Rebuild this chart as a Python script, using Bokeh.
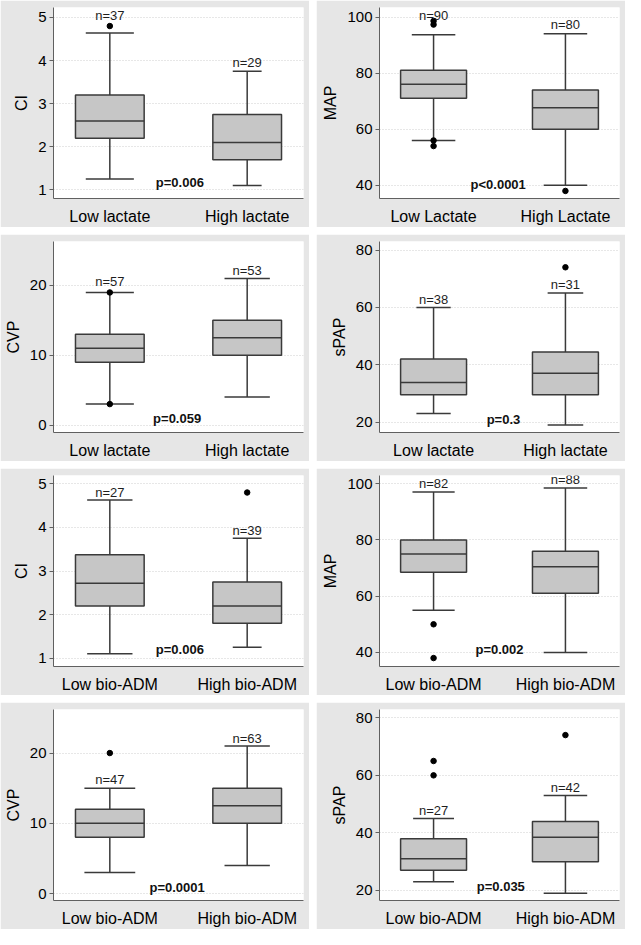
from bokeh.plotting import figure
from bokeh.layouts import gridplot
from bokeh.models import Range1d, FixedTicker
from bokeh.core.properties import value
from bokeh.embed import file_html
from bokeh.resources import INLINE

# ---------------- data ----------------
y_titles = ["CI", "MAP", "CVP", "sPAP", "CI", "MAP", "CVP", "sPAP"]
group_names = [
    ["Low lactate", "High lactate"],
    ["Low Lactate", "High Lactate"],
    ["Low lactate", "High lactate"],
    ["Low lactate", "High lactate"],
    ["Low bio-ADM", "High bio-ADM"],
    ["Low bio-ADM", "High bio-ADM"],
    ["Low bio-ADM", "High bio-ADM"],
    ["Low bio-ADM", "High bio-ADM"],
]
lower_whisker = [[1.25, 1.1], [56, 40], [3, 4], [23, 19], [1.1, 1.25], [55, 40], [3, 4], [23, 19]]
q1 = [[2.2, 1.7], [71, 60], [9, 10], [29.5, 29.5], [2.2, 1.8], [68.5, 61], [8, 10], [27, 30]]
median = [[2.6, 2.1], [76, 67.7], [11, 12.5], [33.8, 37], [2.72, 2.2], [75, 70.5], [10, 12.5], [31, 38.5]]
q3 = [[3.2, 2.75], [81, 74], [13, 15], [42, 44.4], [3.37, 2.75], [80, 76], [12, 15], [38, 44]]
upper_whisker = [[4.64, 3.75], [93.7, 94], [19, 21], [60, 65], [4.63, 3.75], [97, 98.5], [15, 21], [45, 53]]
outliers = [
    [[4.8], []],
    [[98.6, 97.3, 56, 54], [38]],
    [[19, 3], []],
    [[], [74]],
    [[], [4.8]],
    [[50, 38], []],
    [[20], []],
    [[65, 60], [74]],
]
n_counts = [[37, 29], [90, 80], [57, 53], [38, 31], [27, 39], [82, 88], [47, 63], [27, 42]]
n_label_y = [[5.05, 3.95], [100.6, 97.3], [20.6, 22.2], [62.9, 68.1],
             [4.80, 3.94], [99.9, 101.4], [16.3, 22.1], [47.7, 55.7]]
p_texts = ["p=0.006", "p<0.0001", "p=0.059", "p=0.3", "p=0.006", "p=0.002", "p=0.0001", "p=0.035"]
p_x = [1.51, 1.49, 1.49, 1.53, 1.51, 1.50, 1.49, 1.51]
p_y = [1.16, 40.4, 0.95, 20.9, 1.19, 41.2, 0.89, 21.3]
y_ticks = [[1, 2, 3, 4, 5], [40, 60, 80, 100], [0, 10, 20], [20, 40, 60, 80],
           [1, 2, 3, 4, 5], [40, 60, 80, 100], [0, 10, 20], [20, 40, 60, 80]]
y_limits = [(0.8, 5.23), (35.3, 103.4), (-1.07, 26.3), (16.35, 83.0),
            (0.81, 5.19), (35.0, 102.9), (-0.99, 26.2), (16.5, 82.9)]

# ---------------- style ----------------
FONT = "Liberation Sans"
W, H = 309, 227
cap_widths = [[0.35, 0.21], [0.33, 0.33], [0.35, 0.33], [0.26, 0.27],
              [0.33, 0.21], [0.32, 0.33], [0.37, 0.33], [0.31, 0.33]]
left_borders = [45, 63, 53, 53, 45, 63, 53, 53]
BOX_W = 0.5
BOX_FILL = "#c6c6c6"
LINE = "#3a3a3a"
LW = 1.5
AXIS = "#606060"
PANEL_BG = "#e6e6e6"

figs = []
for i in range(8):
    p = figure(width=W, height=H, output_backend="svg", toolbar_location=None,
               x_range=Range1d(0.59, 2.41), y_range=Range1d(*y_limits[i]),
               min_border_left=left_borders[i], min_border_right=6,
               min_border_top=7, min_border_bottom=27)
    p.background_fill_color = "white"
    p.border_fill_color = PANEL_BG
    p.outline_line_color = None

    xs = [1, 2]
    # whiskers
    p.segment(x0=xs, y0=q3[i], x1=xs, y1=upper_whisker[i], line_color=LINE, line_width=LW)
    p.segment(x0=xs, y0=q1[i], x1=xs, y1=lower_whisker[i], line_color=LINE, line_width=LW)
    # caps
    cx0 = [x - c / 2 for x, c in zip(xs, cap_widths[i])]
    cx1 = [x + c / 2 for x, c in zip(xs, cap_widths[i])]
    p.segment(x0=cx0, y0=upper_whisker[i], x1=cx1, y1=upper_whisker[i], line_color=LINE, line_width=LW)
    p.segment(x0=cx0, y0=lower_whisker[i], x1=cx1, y1=lower_whisker[i], line_color=LINE, line_width=LW)
    # boxes
    p.vbar(x=xs, width=BOX_W, bottom=q1[i], top=q3[i], fill_color=BOX_FILL,
           line_color=LINE, line_width=LW)
    # medians
    p.segment(x0=[x - BOX_W / 2 for x in xs], y0=median[i],
              x1=[x + BOX_W / 2 for x in xs], y1=median[i], line_color=LINE, line_width=LW)
    # outliers
    ox, oy = [], []
    for g in range(2):
        for v in outliers[i][g]:
            ox.append(xs[g])
            oy.append(v)
    if ox:
        p.scatter(x=ox, y=oy, size=5.5, marker="circle", fill_color="black", line_color="black")
    # n labels
    p.text(x=xs, y=n_label_y[i], text=[f"n={n}" for n in n_counts[i]],
           text_font=value(FONT), text_font_size="13px", text_color="#1e1e1e",
           text_align="center", text_baseline="middle")
    # p-value
    p.text(x=[p_x[i]], y=[p_y[i]], text=[p_texts[i]], text_font=value(FONT),
           text_font_size="13px", text_font_style="bold", text_color="#111111",
           text_align="center", text_baseline="middle")

    # axes
    p.xaxis.ticker = FixedTicker(ticks=xs)
    p.xaxis.major_label_overrides = {1: group_names[i][0], 2: group_names[i][1]}
    p.xaxis.major_label_text_font = FONT
    p.xaxis.major_label_text_font_size = "16px"
    p.xaxis.major_label_text_color = "black"
    p.xaxis.major_tick_line_color = None
    p.xaxis.minor_tick_line_color = None
    p.xaxis.major_label_standoff = 3
    p.xaxis.axis_line_color = AXIS

    p.yaxis.ticker = FixedTicker(ticks=y_ticks[i], minor_ticks=[])
    p.yaxis.axis_label = y_titles[i]
    p.yaxis.axis_label_text_font = FONT
    p.yaxis.axis_label_text_font_size = "16px"
    p.yaxis.axis_label_text_font_style = "normal"
    p.yaxis.axis_label_text_color = "black"
    p.yaxis.axis_label_standoff = 5
    p.yaxis.major_label_text_font = FONT
    p.yaxis.major_label_text_font_size = "15px"
    p.yaxis.major_label_text_color = "black"
    p.yaxis.major_label_standoff = 3
    p.yaxis.major_tick_out = 4
    p.yaxis.major_tick_in = 0
    p.yaxis.minor_tick_line_color = None
    p.yaxis.axis_line_color = AXIS
    p.yaxis.major_tick_line_color = AXIS

    p.xgrid.visible = False
    p.ygrid.grid_line_color = "#cfcfcf"
    p.ygrid.grid_line_dash = "1 2"
    p.ygrid.grid_line_width = 1
    figs.append(p)

grid = gridplot(figs, ncols=2, toolbar_location=None)
grid.spacing = 7

open("out.html", "w").write(file_html(grid, INLINE))
